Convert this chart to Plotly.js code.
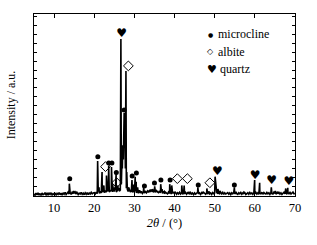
<!DOCTYPE html>
<html><head><meta charset="utf-8">
<script src="https://cdn.plot.ly/plotly-3.0.1.min.js"></script>
<style>html,body{margin:0;padding:0;background:#fff}#plot{width:317px;height:245px}</style>
</head><body><div id="plot"></div>
<script>
// baseline noise, 2θ from 5 to 70 in 0.25° steps
const baseStart = 5, baseStep = 0.25;
const baseline = [
 8,0,12,2,14,1,10,-1,13,4,7,15,0,11,3,12,5,14,2,9,
 4,13,0,11,5,15,3,12,1,14,6,16,4,10,18,7,14,5,17,9,
 11,18,6,15,4,12,7,16,5,12,3,14,6,15,4,13,7,17,8,13,
 15,7,18,9,20,11,22,13,19,24,14,26,17,23,28,18,25,30,19,27,
 22,29,18,27,32,23,30,60,150,200,380,150,40,32,21,29,19,26,17,24,
 16,23,14,21,11,20,13,22,10,18,12,21,14,24,16,26,18,28,20,17,
 25,16,27,19,15,24,13,21,11,19,9,17,12,8,18,10,16,7,14,16,
 9,16,6,14,8,17,7,15,5,13,8,16,6,14,9,5,15,7,13,4,
 13,6,11,16,7,13,5,15,8,17,9,6,14,7,16,8,13,5,15,9,
 13,60,17,9,15,6,13,8,16,5,14,7,11,15,6,13,4,14,8,16,
 7,15,9,5,14,8,16,6,13,7,15,4,11,14,6,16,8,13,5,14,
 9,16,7,14,5,13,8,17,6,15,9,7,16,8,14,5,15,9,7,17,
 10,6,15,8,16,7,14,5,11,17,8,14,6,15,9,16,7,13,18,8,
 10
];
// diffraction peak apexes
const peakPos = [13.8,14.9,15.6,20.85,21.2,21.95,22.4,23.05,23.6,24.3,24.6,25.1,25.45,25.85,26.2,
 26.64,26.9,27.1,27.3,27.45,27.65,27.9,28.1,28.55,29.4,29.8,30.2,30.45,30.8,31.3,32.3,33.3,34.05,34.55,
 35.05,35.4,36.55,36.9,37.45,38.8,39.3,40.1,41.8,42.4,43.6,45.8,47.1,48.05,48.6,50.1,50.3,50.8,51.3,
 54.9,55.3,57.3,59.95,61.2,64.1,65.1,65.7,67.7,68.2];
const peakInt = [65,25,20,192,45,130,55,110,165,158,60,45,119,55,35,
 873,190,280,420,460,400,695,130,45,85,60,104,75,45,28,41,25,32,35,
 50,28,62,35,22,62,55,20,55,55,20,45,20,38,22,104,95,35,25,
 45,20,18,85,70,45,25,20,38,42];
// phase markers
const microX = [13.9,20.9,23.6,24.4,25.5,27.45,29.45,30.5,32.5,35.0,36.6,38.9,45.9,54.9];
const microY = [93,216,180,180,128,477,108,125,52,69,85,85,57,57];
const albiteX = [22.8,25.6,28.5,40.7,43.2,48.8];
const albiteY = [160,70,723,93,93,70];
const quartzX = [26.8,50.65,60.1,64.2,68.45];
const quartzY = [900,130,109,80,73];
const legendNames = ['microcline','albite','quartz'];

// merge baseline and peaks into one profile
const pts = [];
baseline.forEach((v,i)=>pts.push([baseStart+i*baseStep, v]));
peakPos.forEach((p,i)=>pts.push([p, peakInt[i]]));
pts.sort((a,b)=>a[0]-b[0]);
const xs = pts.map(p=>p[0]), ys = pts.map(p=>p[1]);

const serif = 'Liberation Serif, Times New Roman, serif';
const traces = [
 {x:xs, y:ys, mode:'lines', line:{color:'#000', width:1.6}, hoverinfo:'skip'},
 {x:microX, y:microY, mode:'markers', marker:{symbol:'circle', size:5, color:'#000'}},
 {x:albiteX, y:albiteY, mode:'markers', marker:{symbol:'diamond-open', size:7.5, color:'#000', line:{width:1, color:'#000'}}},
 {x:quartzX, y:quartzY, mode:'text', text:quartzX.map(()=>'♥'), textposition:'middle center',
  textfont:{family:'DejaVu Sans', size:12, color:'#000'}}
];
const pxX = px => (px-34)/261, pxY = py => 1-(py-14)/182;
const annotations = [
 {x:pxX(210), y:pxY(34.3), text:'●', font:{family:'DejaVu Sans', size:6}},
 {x:pxX(210.3), y:pxY(51.7), text:'◇', font:{family:'DejaVu Sans', size:8}},
 {x:pxX(211.5), y:pxY(69), text:'♥', font:{family:'DejaVu Sans', size:11}},
 {x:pxX(215.5), y:pxY(34.3), text:legendNames[0], xanchor:'left', font:{family:serif, size:12}},
 {x:pxX(215.5), y:pxY(51.7), text:legendNames[1], xanchor:'left', font:{family:serif, size:12}},
 {x:pxX(217.5), y:pxY(69), text:legendNames[2], xanchor:'left', font:{family:serif, size:12}}
].map(a=>Object.assign({xref:'paper', yref:'paper', showarrow:false, xanchor:'center', yanchor:'middle'}, a, {font:Object.assign({color:'#000'}, a.font)}));

const layout = {
 width:317, height:245, margin:{l:34, r:22, t:14, b:49},
 paper_bgcolor:'#fff', plot_bgcolor:'#fff', showlegend:false,
 font:{family:serif, size:12, color:'#000'},
 xaxis:{range:[5,70], dtick:10, tick0:0, ticks:'inside', ticklen:4, tickcolor:'#000', tickwidth:1,
   showline:true, linecolor:'#000', linewidth:1.3, mirror:'ticks', showgrid:false, zeroline:false,
   tickfont:{family:serif, size:12.5, color:'#000'},
   title:{text:'<i>2θ</i> / (°)', font:{family:serif, size:12.5, color:'#000'}, standoff:4}},
 yaxis:{range:[-4,1013], dtick:50, tick0:0, ticks:'inside', ticklen:3, tickcolor:'#000', tickwidth:1,
   showline:true, linecolor:'#000', linewidth:1.3, mirror:'ticks', showgrid:false, zeroline:false,
   showticklabels:false,
   title:{text:'Intensity / a.u.', font:{family:serif, size:12, color:'#000'}, standoff:14}},
 annotations:annotations
};
Plotly.newPlot('plot', traces, layout, {staticPlot:true, displayModeBar:false});
</script></body></html>
